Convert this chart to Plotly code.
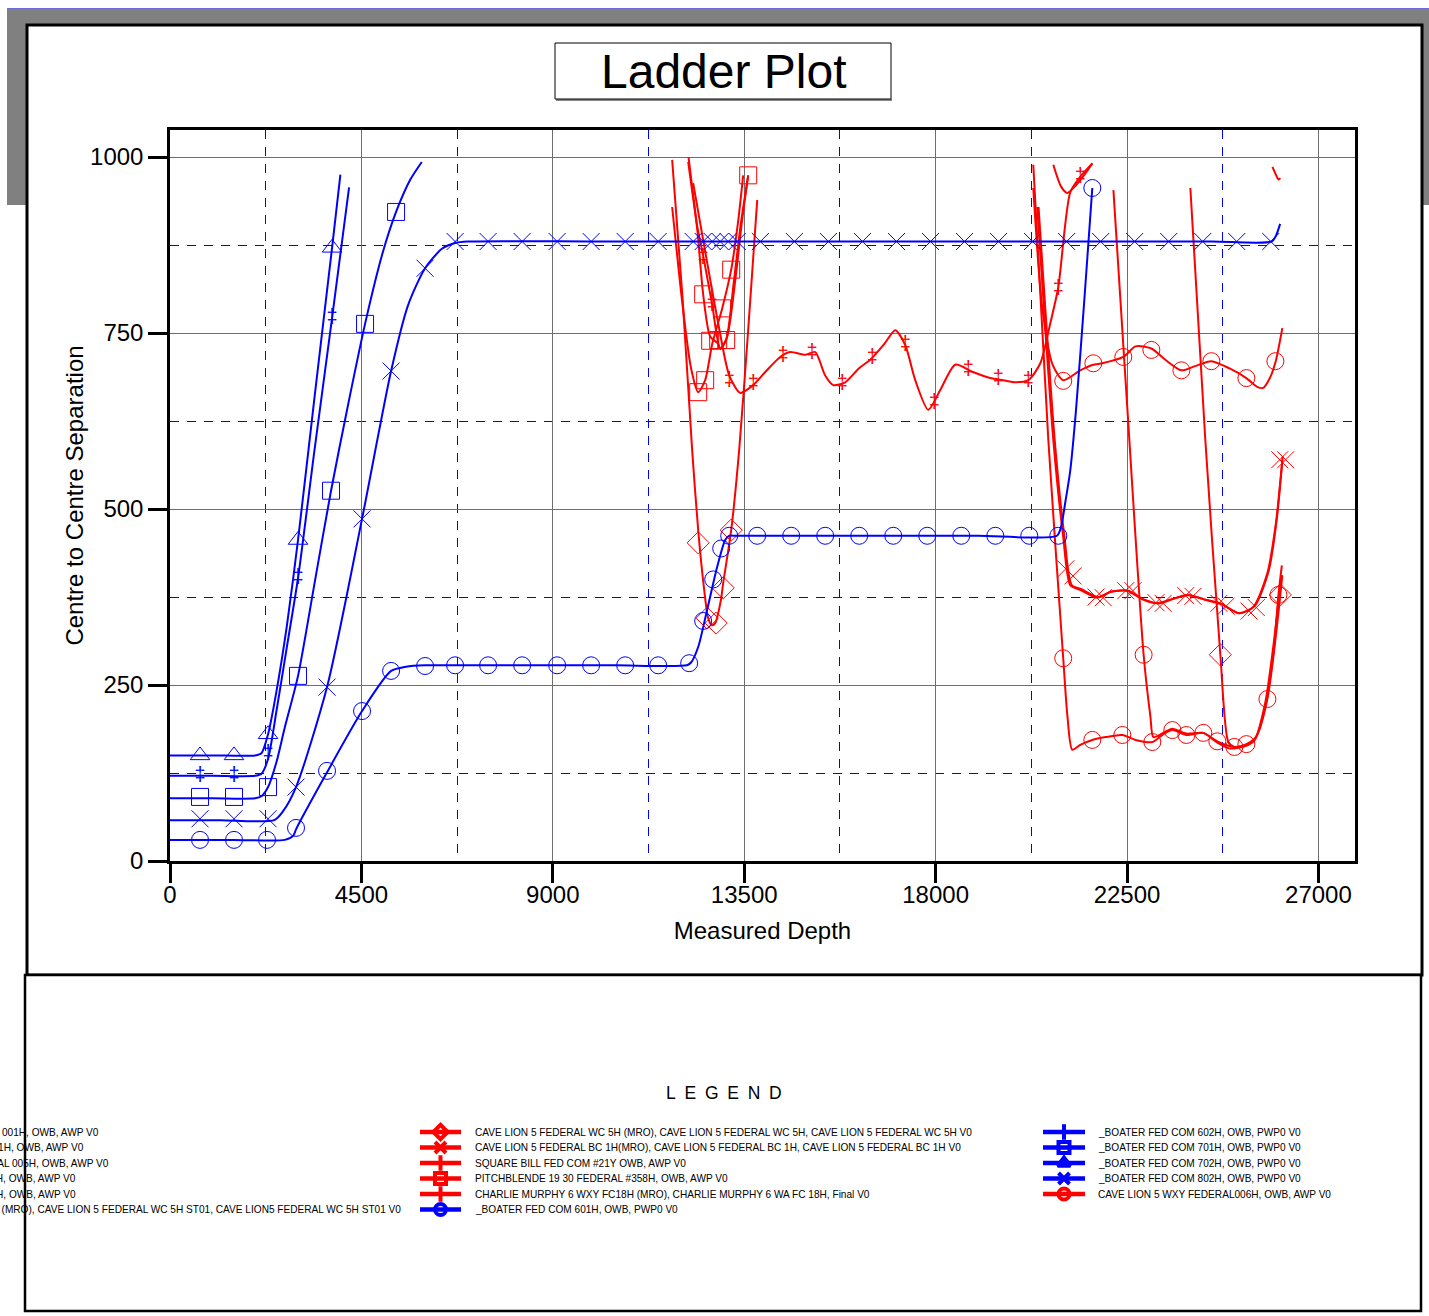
import plotly.graph_objects as go

# ---------------- DATA ----------------
# Blue wells (BOATER FED COM)
b601_line_md = [0, 1500, 2700, 2900, 2963, 3692, 4515, 5198, 5550, 5997, 7500, 9000, 10500, 12150, 12250, 12418, 12629,
                12865, 13053, 13150, 13300, 15000, 17000, 19000, 20850, 20950, 21050, 21166, 21300, 21500, 21684]
b601_line_sep = [30, 30, 30, 36, 45, 126, 213, 270, 276, 278, 278, 278, 278, 278, 282, 304, 357,
                 418, 456, 462, 462, 462, 462, 462, 462, 475, 510, 555, 640, 800, 956]
b601_mk_md = [706, 1505, 2281, 2963, 3692, 4515, 5198, 5997, 6703, 7479, 8279, 9102, 9901, 10701, 11477, 12206, 12535,
              12771, 12959, 13147, 13805, 14605, 15404, 16204, 17004, 17803, 18603, 19403, 20202, 20884, 21684]
b601_mk_sep = [30, 30, 30, 47, 128, 213, 270, 277, 278, 278, 278, 278, 278, 278, 278, 281, 341,
               400, 444, 462, 462, 462, 462, 462, 462, 462, 462, 462, 462, 462, 956]

b802_line_md = [0, 1200, 2450, 2650, 2963, 3692, 4515, 5198, 5600, 5997, 6400, 6703, 7000, 10000, 13000, 16000, 19000,
                22000, 24500, 25900, 26000, 26100]
b802_line_sep = [58, 58, 58, 70, 105, 247, 486, 696, 790, 842, 870, 878, 880, 880, 880, 880, 880,
                 880, 880, 880, 888, 905]
b802_mk_md = [706, 1505, 2305, 2963, 3692, 4515, 5198, 5997, 6703, 7479, 8279, 9102, 9901, 10701, 11477,
              12300, 12535, 12747, 12935, 13123, 13335,
              13880, 14680, 15480, 16280, 17080, 17880, 18680, 19480, 20280, 21080, 21880, 22680, 23480,
              24280, 25080, 25880]
b802_mk_sep = [60, 60, 60, 105, 247, 486, 696, 842, 880, 880, 880, 880, 880, 880, 880,
               880, 880, 880, 880, 880, 880,
               880, 880, 880, 880, 880, 880, 880, 880, 880, 880, 880, 880, 880,
               880, 880, 880]

b701_line_md = [0, 1000, 2000, 2150, 2305, 2500, 2700, 3010, 3400, 3786, 4200, 4586, 5000, 5315, 5650, 5919]
b701_line_sep = [89, 89, 89, 92, 105, 140, 190, 263, 395, 526, 652, 763, 864, 922, 968, 993]
b701_mk_md = [706, 1505, 2305, 3010, 3786, 4586, 5315]
b701_mk_sep = [91, 91, 105, 263, 526, 763, 922]

b602_line_md = [0, 1000, 2000, 2150, 2305, 2500, 2750, 3010, 3400, 3810, 4210]
b602_line_sep = [121, 121, 121, 124, 145, 212, 305, 402, 585, 771, 957]
b602_mk_md = [706, 1505, 2305, 3010, 3810]
b602_mk_sep = [121, 121, 152, 402, 771]

b702_line_md = [0, 1000, 2000, 2150, 2305, 2500, 2750, 3010, 3400, 3810, 4006]
b702_line_sep = [150, 150, 150, 153, 180, 240, 335, 456, 660, 871, 975]
b702_mk_md = [706, 1505, 2305, 3010, 3810]
b702_mk_sep = [150, 150, 180, 456, 871]

# Red wells
wc5h_line_md = [11806, 12050, 12277, 12418, 12550, 12653, 12740, 12818, 12950, 13006, 13194, 13382, 13600, 13806,
                None,
                23989, 24341, 24694, 24882, 25023, 25306, 25500, 25750, 25950, 26128]
wc5h_line_sep = [996, 800, 583, 470, 390, 345, 335, 338, 370, 395, 470, 584, 760, 939,
                 None,
                 956, 598, 293, 169, 162, 164, 172, 225, 310, 406]
wc5h_mk_md = [12418, 12629, 12841, 13006, 13194, 24694, 26105]
wc5h_mk_sep = [452, 345, 338, 388, 470, 293, 378]

bc1h_line_md = [20390, 20767, 21000, 21166, 21400, 21800, 22110, 22500, 22850, 23210, 23550, 23910, 24300,
                24690, 25120, 25470, 25800, 26000, 26152]
bc1h_line_sep = [929, 598, 460, 392, 385, 374, 382, 384, 372, 366, 372, 378, 372,
                 366, 352, 361, 409, 480, 570]
bc1h_mk_md = [21060, 21770, 22470, 23180, 23880, 24660, 25370, 26090]
bc1h_mk_sep = [415, 375, 384, 367, 377, 366, 355, 570]

w005h_line_md = [20420, 20800, 21030, 21200, 21430, 21830, 22140, 22530, 22880, 23240, 23580, 23940, 24330,
                 24720, 25150, 25500, 25830, 26020, 26160]
w005h_line_sep = [929, 598, 460, 392, 386, 375, 383, 384, 372, 366, 372, 378, 371,
                  365, 352, 362, 412, 485, 575]
w005h_mk_md = [21230, 21940, 22640, 23350, 24050, 24830, 25540, 26230]
w005h_mk_sep = [405, 374, 384, 366, 376, 362, 360, 570]

w006h_line_md = [20296, 20500, 20750, 21000, 21400, 21708, 21919, 22413, 22700, 23072, 23400, 23778, 24100,
                 24483, 24900, 25306, 25550, 25700, 25850, 25988, 26152]
w006h_line_sep = [956, 790, 705, 683, 697, 705, 707, 716, 731, 728, 712, 697, 703,
                  710, 700, 686, 674, 672, 685, 708, 757]
w006h_mk_md = [21000, 21708, 22413, 23072, 23778, 24483, 25306, 25988]
w006h_mk_sep = [682, 707, 716, 726, 697, 710, 686, 710]

w001h_line_md = [20296, 20650, 21000, 21100, 21213, 21400, 21684, 22000, 22390, 22700, 23095, 23350, 23566,
                 23895, 24294, 24623, 25023, 25306, 25550, 25800, 26000, 26152]
w001h_line_sep = [989, 598, 288, 205, 158, 165, 172, 176, 179, 172, 169, 180, 186,
                  179, 182, 170, 162, 166, 178, 230, 320, 406]
w001h_mk_md = [21000, 21684, 22390, 23095, 23895, 24623, 25306, 25800]
w001h_mk_sep = [288, 172, 179, 169, 179, 170, 166, 230]

w211h_line_md = [22180, 22500, 22890, 23050, 23120, 23350, 23566, 23895, 24294, 24623, 24900, 25120, 25306,
                 25500, 25750, 25950, 26060, 26140]
w211h_line_sep = [953, 650, 293, 205, 176, 182, 188, 181, 182, 168, 160, 161, 164,
                  172, 220, 300, 378, 420]
w211h_mk_md = [22890, 23566, 24294, 25023, 26060]
w211h_mk_sep = [293, 186, 182, 162, 378]

pitch_line_md = [11806, 12050, 12250, 12418, 12582, 12750, 12982, 13194, 13350, 13476]
pitch_line_sep = [929, 790, 700, 666, 683, 735, 785, 840, 905, 974]
pitch_mk_md = [12418, 12582, 12982, 13194]
pitch_mk_sep = [666, 683, 785, 840]

sqb_line_md = [12183, 12400, 12535, 12747, 12935, 13100, 13300, 13450, 13594,
               None,
               20767, 20950, 21096, 21300, 21500, 21684,
               None,
               25918, 26000, 26060, 26105]
sqb_line_sep = [993, 900, 860, 790, 727, 745, 830, 910, 974,
                None,
                989, 958, 949, 960, 975, 991,
                None,
                986, 975, 968, 970]
sqb_mk_md = [12535, 12747]
sqb_mk_sep = [857, 790]

sq22_line_md = [12190, 12400, 12535, 12700, 12888, 12935, 13076, 13250, 13420, 13594]
sq22_line_sep = [1000, 895, 805, 745, 735, 728, 740, 820, 905, 974]
sq22_mk_md = [12535, 12700, 12888, 13076, 13594]
sq22_mk_sep = [805, 739, 740, 740, 974]

cm_line_md = [12300, 12600, 12900, 13147, 13405, 13711, 14000, 14346, 14580, 14935, 15170, 15400, 15593, 15875,
              16200, 16463, 16800, 17050, 17286, 17521, 17827, 18109, 18462, 18862, 19285, 19591, 19873, 20180,
              20461, 20696, 20884, 21166, 21400, 21684]
cm_line_sep = [963, 860, 760, 690, 665, 676, 695, 716, 723, 719, 723, 690, 676, 680,
               700, 712, 735, 754, 733, 683, 641, 669, 705, 695, 686, 683, 680, 683,
               707, 764, 815, 950, 972, 991]
cm_mk_md = [13147, 13711, 14416, 15098, 15804, 16510, 17286, 17968, 18768, 19473, 20180, 20884, 21402]
cm_mk_sep = [682, 678, 718, 721, 677, 714, 733, 650, 698, 684, 682, 812, 972]

# Axis ticks
x_ticks = [0, 4500, 9000, 13500, 18000, 22500, 27000]
y_ticks = [0, 250, 500, 750, 1000]

# Legend
legend_col1 = [
    "CAVE LION 5 WXY FEDERAL 001H, OWB, AWP V0",
    "SQUARE BILL FED COM #211H, OWB, AWP V0",
    "CAVE LION 5 WXY FEDERAL 005H, OWB, AWP V0",
    "SQUARE BILL FED COM #22H, OWB, AWP V0",
    "PITCHBLENDE 19 30 FEDERAL #357H, OWB, AWP V0",
    "CAVE LION 5 FEDERAL WC 5H ST01 (MRO), CAVE LION 5 FEDERAL WC 5H ST01, CAVE LION5 FEDERAL WC 5H ST01 V0",
]
legend_col2 = [
    "CAVE LION 5 FEDERAL WC 5H (MRO), CAVE LION 5 FEDERAL WC 5H, CAVE LION 5 FEDERAL WC 5H V0",
    "CAVE LION 5 FEDERAL BC 1H(MRO), CAVE LION 5 FEDERAL BC 1H, CAVE LION 5 FEDERAL BC 1H V0",
    "SQUARE BILL FED COM #21Y OWB, AWP V0",
    "PITCHBLENDE 19 30 FEDERAL #358H, OWB, AWP V0",
    "CHARLIE MURPHY 6 WXY FC18H (MRO), CHARLIE MURPHY 6 WA FC 18H, Final V0",
    "_BOATER FED COM 601H, OWB, PWP0 V0",
]
legend_col3 = [
    "_BOATER FED COM 602H, OWB, PWP0 V0",
    "_BOATER FED COM 701H, OWB, PWP0 V0",
    "_BOATER FED COM 702H, OWB, PWP0 V0",
    "_BOATER FED COM 802H, OWB, PWP0 V0",
    "CAVE LION 5 WXY FEDERAL006H, OWB, AWP V0",
]

# ---------------- STYLE / LAYOUT ----------------
W, H = 1429, 1316
BLUE = "#0000ff"
RED = "#ff0000"
FONT = "Liberation Sans, Arial, sans-serif"


def px(x):
    return x / W


def py(y):
    return 1 - y / H


fig = go.Figure()


def add_line(md, sep, color, width=2):
    fig.add_trace(go.Scatter(x=md, y=sep, mode="lines", line=dict(color=color, width=width, shape="spline", smoothing=0.7),
                             connectgaps=False, hoverinfo="skip"))


def add_markers(md, sep, color, symbol, size=17):
    if symbol == "dagger":
        fig.add_trace(go.Scatter(x=md, y=sep, mode="text", text="‡", textposition="middle center",
                                 textfont=dict(size=20, color=color, family=FONT), hoverinfo="skip"))
    else:
        fig.add_trace(go.Scatter(x=md, y=sep, mode="markers",
                                 marker=dict(symbol=symbol, size=size, color=color,
                                             line=dict(color=color, width=1)), hoverinfo="skip"))


# Red series
for lm, ls, mm, ms, sym in [
    (pitch_line_md, pitch_line_sep, pitch_mk_md, pitch_mk_sep, "square-open"),
    (sq22_line_md, sq22_line_sep, sq22_mk_md, sq22_mk_sep, "square-open"),
    (sqb_line_md, sqb_line_sep, sqb_mk_md, sqb_mk_sep, "dagger"),
    (cm_line_md, cm_line_sep, cm_mk_md, cm_mk_sep, "dagger"),
    (wc5h_line_md, wc5h_line_sep, wc5h_mk_md, wc5h_mk_sep, "diamond-open"),
    (bc1h_line_md, bc1h_line_sep, bc1h_mk_md, bc1h_mk_sep, "x-thin-open"),
    (w005h_line_md, w005h_line_sep, w005h_mk_md, w005h_mk_sep, "x-thin-open"),
    (w006h_line_md, w006h_line_sep, w006h_mk_md, w006h_mk_sep, "circle-open"),
    (w001h_line_md, w001h_line_sep, w001h_mk_md, w001h_mk_sep, "circle-open"),
    (w211h_line_md, w211h_line_sep, w211h_mk_md, w211h_mk_sep, "circle-open"),
]:
    add_line(lm, ls, RED)
    add_markers(mm, ms, RED, sym)

# Blue series
for lm, ls, mm, ms, sym in [
    (b601_line_md, b601_line_sep, b601_mk_md, b601_mk_sep, "circle-open"),
    (b802_line_md, b802_line_sep, b802_mk_md, b802_mk_sep, "x-thin-open"),
    (b701_line_md, b701_line_sep, b701_mk_md, b701_mk_sep, "square-open"),
    (b602_line_md, b602_line_sep, b602_mk_md, b602_mk_sep, "dagger"),
    (b702_line_md, b702_line_sep, b702_mk_md, b702_mk_sep, "triangle-up-open"),
]:
    add_line(lm, ls, BLUE)
    add_markers(mm, ms, BLUE, sym)

# ---------------- LEGEND (drawn on an overlay pixel-space subplot) ----------------
LEG_ROW0 = 1132
LEG_STEP = 15.5
COL2_X0, COL2_X1, COL2_TX = 420, 461, 473
COL3_X0, COL3_X1, COL3_TX = 1043, 1085, 1096
col1_text_right = [101, 86, 111, 78, 78, 403]
LEG_FONT = 10.1

col2_style = [(RED, "diamond-open"), (RED, "x-thin-open"), (RED, "cross-thin-open"), (RED, "square-open"),
              (RED, "cross-thin-open"), (BLUE, "circle-open")]
col3_style = [(BLUE, "cross-thin-open"), (BLUE, "square-open"), (BLUE, "triangle-up-open"), (BLUE, "x-thin-open"),
              (RED, "circle-open")]

annotations = []


def leg_entry(x0, x1, tx, row, color, symbol, name):
    yy = LEG_ROW0 + row * LEG_STEP
    fig.add_trace(go.Scatter(x=[x0, x1], y=[yy, yy], mode="lines", line=dict(color=color, width=4.5),
                             xaxis="x2", yaxis="y2", hoverinfo="skip"))
    fig.add_trace(go.Scatter(x=[(x0 + x1) / 2], y=[yy], mode="markers",
                             marker=dict(symbol=symbol, size=11, color=color, line=dict(color=color, width=4)),
                             xaxis="x2", yaxis="y2", hoverinfo="skip"))
    annotations.append(dict(x=px(tx), y=py(yy), xref="paper", yref="paper", text=name, showarrow=False,
                            xanchor="left", yanchor="middle", font=dict(size=LEG_FONT, family=FONT, color="black")))


for i, name in enumerate(legend_col2):
    leg_entry(COL2_X0, COL2_X1, COL2_TX, i, col2_style[i][0], col2_style[i][1], name)
for i, name in enumerate(legend_col3):
    leg_entry(COL3_X0, COL3_X1, COL3_TX, i, col3_style[i][0], col3_style[i][1], name)
for i, name in enumerate(legend_col1):
    yy = LEG_ROW0 + i * LEG_STEP
    annotations.append(dict(x=px(col1_text_right[i]), y=py(yy), xref="paper", yref="paper", text=name,
                            showarrow=False, xanchor="right", yanchor="middle",
                            font=dict(size=LEG_FONT, family=FONT, color="black")))

annotations.append(dict(x=px(724), y=py(1093), xref="paper", yref="paper",
                        text="L\u2002E\u2002G\u2002E\u2002N\u2002D", showarrow=False,
                        xanchor="center", yanchor="middle", font=dict(size=17.5, family=FONT, color="black")))
annotations.append(dict(x=px(724), y=py(71), xref="paper", yref="paper", text="Ladder Plot", showarrow=False,
                        xanchor="center", yanchor="middle", font=dict(size=48, family=FONT, color="black")))

shapes = [
    dict(type="rect", xref="paper", yref="paper", x0=px(7), x1=px(1429), y0=py(8), y1=py(205),
         fillcolor="#808080", line=dict(width=0), layer="below"),
    dict(type="line", xref="paper", yref="paper", x0=px(7), x1=px(1429), y0=py(8.5), y1=py(8.5),
         line=dict(color="#6a6ad0", width=1), layer="below"),
    dict(type="rect", xref="paper", yref="paper", x0=px(27), x1=px(1422), y0=py(25), y1=py(975),
         fillcolor="white", line=dict(color="black", width=3), layer="below"),
    dict(type="rect", xref="paper", yref="paper", x0=px(25), x1=px(1421), y0=py(975), y1=py(1311),
         fillcolor="white", line=dict(color="black", width=2.5), layer="below"),
    dict(type="line", xref="paper", yref="paper", x0=px(556), x1=px(892), y0=py(100), y1=py(100),
         line=dict(color="#888888", width=2), layer="below"),
    dict(type="rect", xref="paper", yref="paper", x0=px(555), x1=px(891), y0=py(43), y1=py(99),
         fillcolor="white", line=dict(color="black", width=1), layer="below"),
]

axis_common = dict(
    showline=True, linewidth=2.5, linecolor="black", mirror=True,
    ticks="outside", ticklen=19, tickwidth=2.5, tickcolor="black",
    showgrid=True, gridcolor="#6e6e6e", gridwidth=1,
    zeroline=False,
    tickfont=dict(size=24, family=FONT, color="black"),
)

fig.update_layout(
    width=W, height=H,
    margin=dict(l=0, r=0, t=0, b=0),
    paper_bgcolor="white",
    plot_bgcolor="rgba(0,0,0,0)",
    template="none",
    showlegend=False,
    font=dict(family=FONT, color="black"),
    xaxis=dict(
        domain=[px(170), px(1355)], range=[0, 27860], tickvals=x_ticks,
        ticktext=[str(v) for v in x_ticks],
        minor=dict(dtick=2250, tick0=0, showgrid=True, gridcolor=BLUE, griddash="9px,8px", gridwidth=1, ticks=""),
        title=dict(text="Measured Depth", font=dict(size=24, family=FONT), standoff=16),
        ticklabelstandoff=-9,
        anchor="y",
        **axis_common,
    ),
    yaxis=dict(
        domain=[py(861), py(130)], range=[0, 1038.4], tickvals=y_ticks,
        minor=dict(dtick=125, tick0=0, showgrid=True, gridcolor=BLUE, griddash="9px,8px", gridwidth=1, ticks=""),
        title=dict(text="Centre to Centre Separation", font=dict(size=24, family=FONT), standoff=0),
        anchor="x",
        **axis_common,
    ),
    xaxis2=dict(domain=[0, 1], range=[0, W], visible=False, anchor="y2", fixedrange=True),
    yaxis2=dict(domain=[0, 1], range=[H, 0], visible=False, anchor="x2", fixedrange=True),
    shapes=shapes,
    annotations=annotations,
)

fig.write_html("out.html")
